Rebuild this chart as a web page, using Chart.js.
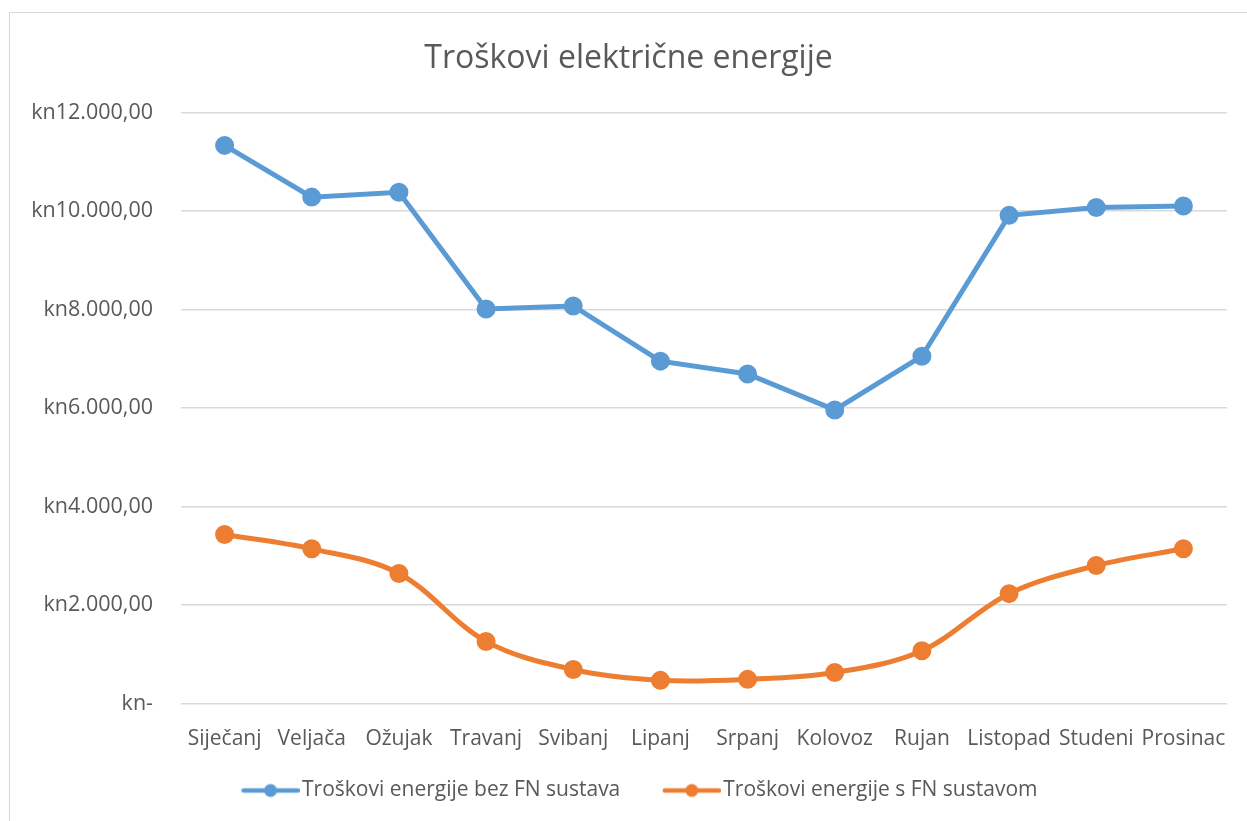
<!DOCTYPE html>
<html>
<head>
<meta charset="utf-8">
<script src="https://cdn.jsdelivr.net/npm/chart.js@4/dist/chart.umd.min.js"></script>
<style>
    body { margin: 0; background: #fff; overflow: hidden; }
    #box {
        position: absolute; left: 9px; top: 12px;
        width: 1248px; height: 812px;
        border: 1px solid #d9d9d9; box-sizing: border-box;
    }
    #box canvas { display: block; }
</style>
</head>
<body>
<div id="box"><canvas id="troskovi" width="1246" height="810"></canvas></div>
<script>
/*troškovi električne energije po mjesecima*/
const mjeseci = ['Siječanj', 'Veljača', 'Ožujak', 'Travanj', 'Svibanj', 'Lipanj',
    'Srpanj', 'Kolovoz', 'Rujan', 'Listopad', 'Studeni', 'Prosinac'];
const bezFN = [11330, 10280, 10380, 8010, 8070, 6950, 6690, 5960, 7050, 9910, 10070, 10100];
const sFN = [3430, 3140, 2640, 1260, 690, 470, 490, 630, 1070, 2230, 2800, 3140];
const oznakeY = [0, 2000, 4000, 6000, 8000, 10000, 12000];

const siva = '#595959';
const font = '"Open Sans", Lato, sans-serif';

function kune(v) {
    if (v === 0) return 'kn-';
    const s = v.toFixed(2).split('.');
    return 'kn' + s[0].replace(/\B(?=(\d{3})+(?!\d))/g, '.') + ',' + s[1];
}

// linija s kružićem za legendu; lijevi dio slike je prazan,
// tako da simbol stoji tik uz tekst
function simbol(boja) {
    const c = document.createElement('canvas');
    c.width = 88; c.height = 16;
    const g = c.getContext('2d');
    g.strokeStyle = boja;
    g.lineWidth = 4.5;
    g.lineCap = 'round';
    g.beginPath(); g.moveTo(32, 8); g.lineTo(86, 8); g.stroke();
    g.fillStyle = boja;
    g.beginPath(); g.arc(59, 8, 6.5, 0, Math.PI * 2); g.fill();
    return c;
}

const ctx = document.getElementById('troskovi').getContext('2d');
const chart = new Chart(ctx, {
    type: 'line',
    data: {
        labels: mjeseci,
        datasets: [{
            label: 'Troškovi energije bez FN sustava',
            data: bezFN,
            borderColor: '#5B9BD5',
            backgroundColor: '#5B9BD5',
            borderWidth: 5,
            pointRadius: 7,
            pointHoverRadius: 7,
            tension: 0
        }, {
            label: 'Troškovi energije s FN sustavom',
            data: sFN,
            borderColor: '#ED7D31',
            backgroundColor: '#ED7D31',
            borderWidth: 5,
            pointRadius: 7,
            pointHoverRadius: 7,
            tension: 0.35
        }]
    },
    options: {
        responsive: false,
        animation: false,
        layout: { padding: { left: 20, right: 29, top: 0, bottom: 12 } },
        scales: {
            x: {
                offset: true,
                afterFit: (axis) => { axis.height = 56; },
                grid: { display: false },
                border: { display: false },
                ticks: { color: siva, font: { family: font, size: 21 }, padding: 15, maxRotation: 0, autoSkip: false }
            },
            y: {
                min: 0, max: 12000,
                afterBuildTicks: (axis) => { axis.ticks = oznakeY.map(v => ({ value: v })); },
                afterFit: (axis) => { axis.width = 151; },
                grid: { color: '#d9d9d9', lineWidth: 1.5, drawTicks: false },
                border: { display: false },
                ticks: { color: siva, font: { family: font, size: 21.5 }, padding: 28, callback: (v) => kune(v) }
            }
        },
        plugins: {
            title: {
                display: true,
                text: 'Troškovi električne energije',
                color: siva,
                font: { family: font, size: 32, weight: 'normal' },
                padding: { top: 27, bottom: 34 }
            },
            legend: {
                position: 'bottom',
                maxHeight: 54,
                labels: {
                    color: siva,
                    font: { family: font, size: 21 },
                    usePointStyle: true,
                    pointStyleWidth: 72,
                    padding: 20.5,
                    generateLabels: (c) => c.data.datasets.map((ds, i) => ({
                        text: ds.label,
                        pointStyle: simbol(ds.borderColor),
                        fillStyle: ds.borderColor,
                        strokeStyle: ds.borderColor,
                        lineWidth: 0,
                        fontColor: siva,
                        datasetIndex: i
                    }))
                }
            },
            tooltip: { enabled: false }
        }
    }
});
</script>
</body>
</html>
